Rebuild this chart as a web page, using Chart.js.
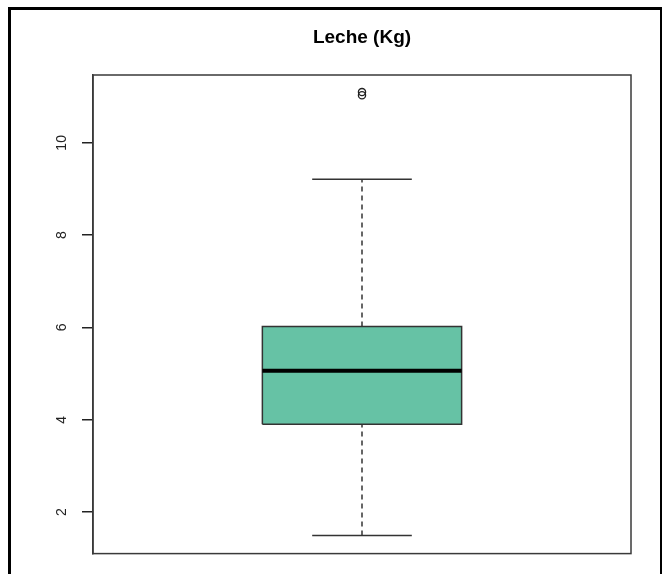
<!DOCTYPE html>
<html>
<head>
<meta charset="utf-8">
<script src="https://cdn.jsdelivr.net/npm/chart.js@4.4.1/dist/chart.umd.min.js"></script>
<style>
  html, body { margin: 0; padding: 0; background: #fff; }
  #wrap { position: relative; width: 662px; height: 574px; overflow: hidden; }
  #chart { position: absolute; left: 0; top: 0; }
  .frame { position: absolute; background: #000; }
</style>
</head>
<body>
<div id="wrap">
  <canvas id="chart" width="662" height="574"></canvas>
  <div class="frame" style="left:8px; top:7px; width:654px; height:2.5px;"></div>
  <div class="frame" style="left:8px; top:7px; width:2.5px; height:567px;"></div>
  <div class="frame" style="left:660px; top:7px; width:1.5px; height:567px;"></div>
</div>
<script>
// Box plot summary
const categories = ['Leche (Kg)'];
const whiskerLow = [1.49];
const q1 = [3.90];
const median = [5.06];
const q3 = [6.02];
const whiskerHigh = [9.21];
const outliers = [11.03, 11.10];
const yTicks = [2, 4, 6, 8, 10];
const yMin = 1.10;
const yMax = 11.47;

// box geometry on the x scale (R style: box at 1, width 0.4)
const pos = 1, half = 0.2, capHalf = 0.1;

const boxColor = '#66c2a5';

function seg(x0, y0, x1, y1) {
    return [{x: x0, y: y0}, {x: x1, y: y1}];
}

const datasets = [];
categories.forEach((name, i) => {
    // fill of the box
    datasets.push({
        data: [
            {x: pos - half, y: q1[i]}, {x: pos - half, y: q3[i]},
            {x: pos + half, y: q3[i]}, {x: pos + half, y: q1[i]}
        ],
        borderWidth: 0,
        backgroundColor: boxColor,
        fill: {value: q1[i]},
        pointRadius: 0,
        order: 5
    });
    // outline of the box
    datasets.push({
        data: [
            {x: pos - half, y: q1[i]}, {x: pos - half, y: q3[i]},
            {x: pos + half, y: q3[i]}, {x: pos + half, y: q1[i]},
            {x: pos - half, y: q1[i]}
        ],
        borderColor: '#333',
        borderWidth: 1.5,
        fill: false,
        pointRadius: 0,
        order: 3
    });
    // median
    datasets.push({
        data: seg(pos - half, median[i], pos + half, median[i]),
        borderColor: '#000',
        borderWidth: 4,
        pointRadius: 0,
        fill: false,
        order: 1
    });
    // dashed whiskers
    datasets.push({
        data: seg(pos, q3[i], pos, whiskerHigh[i]),
        borderColor: '#333',
        borderWidth: 1.5,
        borderDash: [5, 4],
        pointRadius: 0,
        fill: false,
        order: 4
    });
    datasets.push({
        data: seg(pos, whiskerLow[i], pos, q1[i]),
        borderColor: '#333',
        borderWidth: 1.5,
        borderDash: [5, 4],
        pointRadius: 0,
        fill: false,
        order: 4
    });
    // whisker caps
    datasets.push({
        data: seg(pos - capHalf, whiskerHigh[i], pos + capHalf, whiskerHigh[i]),
        borderColor: '#333',
        borderWidth: 1.5,
        pointRadius: 0,
        fill: false,
        order: 4
    });
    datasets.push({
        data: seg(pos - capHalf, whiskerLow[i], pos + capHalf, whiskerLow[i]),
        borderColor: '#333',
        borderWidth: 1.5,
        pointRadius: 0,
        fill: false,
        order: 4
    });
    // outliers
    datasets.push({
        data: outliers.map(v => ({x: pos, y: v})),
        showLine: false,
        pointStyle: 'circle',
        pointRadius: 3.6,
        pointBorderWidth: 1.3,
        pointBorderColor: '#222',
        pointBackgroundColor: 'rgba(0,0,0,0)',
        order: 2
    });
});

// frame around the plot region, like R's box()
const plotFrame = {
    id: 'plotFrame',
    afterDraw(chart) {
        const a = chart.chartArea;
        const ctx = chart.ctx;
        ctx.save();
        ctx.strokeStyle = '#3a3a3a';
        ctx.lineWidth = 1.5;
        ctx.strokeRect(a.left, a.top, a.right - a.left, a.bottom - a.top);
        ctx.restore();
    }
};

new Chart(document.getElementById('chart'), {
    type: 'line',
    data: { datasets: datasets },
    plugins: [plotFrame],
    options: {
        responsive: false,
        animation: false,
        events: [],
        layout: { padding: { left: 0, right: 31, top: 0, bottom: 20 } },
        plugins: {
            legend: { display: false },
            tooltip: { enabled: false },
            title: {
                display: true,
                text: categories[0],
                fullSize: false,
                color: '#000',
                font: { family: 'Liberation Sans, Arial, sans-serif', size: 19, weight: 'bold' },
                padding: { top: 26.5, bottom: 25.7 }
            }
        },
        scales: {
            x: {
                type: 'linear',
                min: 0.46,
                max: 1.54,
                display: false
            },
            y: {
                type: 'linear',
                min: yMin,
                max: yMax,
                afterBuildTicks: axis => { axis.ticks = yTicks.map(v => ({value: v})); },
                afterFit: scale => { scale.width = 93; },
                grid: {
                    drawOnChartArea: false,
                    drawTicks: true,
                    tickLength: 11,
                    color: '#222',
                    lineWidth: 1.5
                },
                border: { display: true, color: '#3a3a3a', width: 1.5 },
                ticks: {
                    minRotation: 90,
                    maxRotation: 90,
                    crossAlign: 'center',
                    padding: 12,
                    color: '#222',
                    font: { family: 'Liberation Sans, Arial, sans-serif', size: 14 },
                    callback: v => String(v)
                }
            }
        }
    }
});
</script>
</body>
</html>
